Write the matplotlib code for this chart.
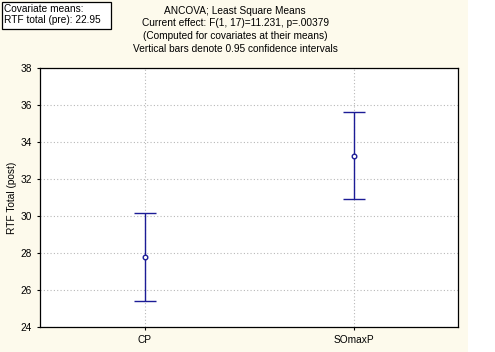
import numpy as np
import matplotlib.pyplot as plt
from matplotlib.patches import Rectangle

groups = ["CP", "SOmaxP"]
means = [27.8, 33.26]
ci_low = [25.4, 30.92]
ci_high = [30.15, 35.6]

title_lines = [
    "ANCOVA; Least Square Means",
    "Current effect: F(1, 17)=11.231, p=.00379",
    "(Computed for covariates at their means)",
    "Vertical bars denote 0.95 confidence intervals",
]
cov_lines = ["Covariate means:", "RTF total (pre): 22.95"]

W, H = 495, 352
plt.rcParams['font.family'] = ['Liberation Sans', 'DejaVu Sans']

fig = plt.figure(figsize=(W / 100, H / 100), dpi=100, facecolor='#fdfaec')
# white strip at the right edge
fig.patches.append(Rectangle((468 / W, 0), 1, 1, transform=fig.transFigure,
                             facecolor='white', edgecolor='none', zorder=-1))

ax = fig.add_axes([40 / W, 1 - 327 / H, 418 / W, 259 / H])
ax.set_facecolor('white')

x = np.arange(len(groups))
m = np.array(means)
err = [m - np.array(ci_low), np.array(ci_high) - m]
blue = '#1c1c96'
ax.errorbar(x, m, yerr=err, fmt='o', color=blue, ecolor=blue, elinewidth=1.0,
            capsize=7.6, capthick=1.0, markersize=3.3, markerfacecolor='white',
            markeredgecolor=blue, markeredgewidth=1.0, zorder=3)

ax.set_xlim(-0.5, 1.5)
ax.set_ylim(24, 38)
ax.set_yticks(np.arange(24, 39, 2))
ax.set_xticks(x)
ax.set_xticklabels(groups)
ax.grid(True, color='#b8b8b8', linestyle=(0, (1, 2)), linewidth=0.8)
ax.tick_params(labelsize=7.3, length=2, width=0.8, pad=4, colors='black')
ax.set_ylabel("RTF Total (post)", fontsize=7.3, va='center')
ax.yaxis.set_label_coords(-0.067, 0.5)
for s in ax.spines.values():
    s.set_linewidth(0.9)

for i, line in enumerate(title_lines):
    fig.text(235 / W, 1 - (11 + 12.5 * i) / H, line, ha='center', va='center',
             fontsize=7.3)

# covariate box
fig.patches.append(Rectangle((2 / W, 1 - 29 / H), 109 / W, 27 / H,
                             transform=fig.transFigure, facecolor='white',
                             edgecolor='black', linewidth=0.9))
for i, line in enumerate(cov_lines):
    fig.text(4 / W, 1 - (8.5 + 11.5 * i) / H, line, ha='left', va='center',
             fontsize=7.3)

fig.savefig("out.png", dpi=100, facecolor=fig.get_facecolor())
